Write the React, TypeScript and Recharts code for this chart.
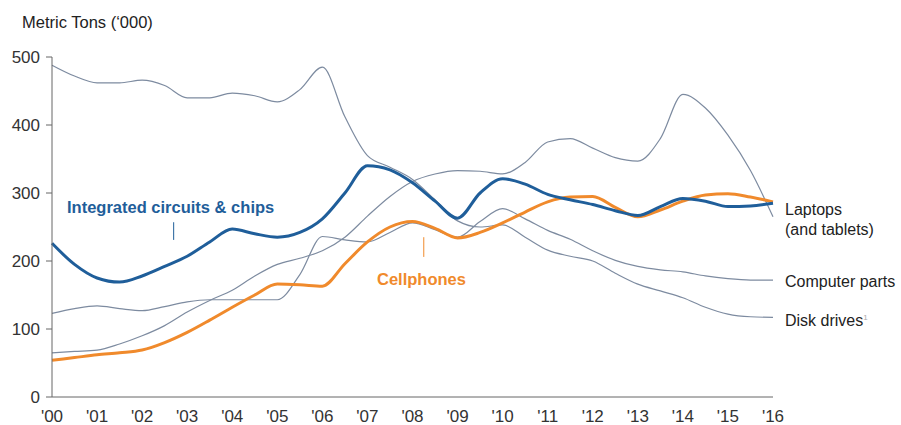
import React from 'react';
import { LineChart, Line, XAxis, YAxis, ReferenceLine } from 'recharts';

// half-year steps from 2000 to 2016
const years = [
  0, 0.5, 1, 1.5, 2, 2.5, 3, 3.5, 4, 4.5, 5, 5.5, 6, 6.5, 7, 7.5, 8, 8.5,
  9, 9.5, 10, 10.5, 11, 11.5, 12, 12.5, 13, 13.5, 14, 14.5, 15, 15.5, 16,
];

const yearLabels = ["'00", "'01", "'02", "'03", "'04", "'05", "'06", "'07", "'08", "'09", "'10", "'11", "'12", "'13", "'14", "'15", "'16"];
const yTicks = [0, 100, 200, 300, 400, 500];

const chips = [
  226, 195, 175, 169, 178, 192, 207, 228, 247, 240, 235, 242, 262, 300, 340, 334, 315, 288,
  263, 300, 321, 313, 298, 290, 283, 274, 267, 280, 292, 288, 280, 281, 285,
];
const cellphones = [
  54, 58, 62, 65, 69, 80, 95, 113, 132, 150, 166, 165, 163, 196, 228, 250, 258, 248,
  234, 242, 256, 272, 287, 294, 295, 279, 265, 275, 288, 297, 299, 294, 287,
];
const laptops = [
  65, 67, 69, 78, 90, 105, 125, 142, 157, 178, 195, 204, 215, 235, 266, 295, 317, 328,
  333, 332, 328, 345, 375, 380, 366, 352, 347, 380, 445, 425, 385, 333, 265,
];
const computerParts = [
  123, 130, 134, 130, 127, 133, 140, 143, 143, 143, 143, 180, 236, 231, 228, 242, 256, 246,
  235, 258, 277, 262, 245, 232, 215, 201, 192, 187, 184, 178, 174, 172, 172,
];
const diskDrives = [
  488, 472, 462, 462, 466, 458, 440, 440, 447, 443, 434, 452, 485, 412, 355, 338, 320, 290,
  259, 250, 253, 235, 216, 207, 200, 182, 166, 156, 146, 132, 122, 118, 117,
];

const data = years.map((x, i) => ({
  x,
  chips: chips[i],
  cellphones: cellphones[i],
  laptops: laptops[i],
  computerParts: computerParts[i],
  diskDrives: diskDrives[i],
}));

const BLUE = '#1f5e9a';
const ORANGE = '#f08a2c';
const THIN = '#7d8ba0';
const font = 'Arial, "Liberation Sans", sans-serif';

const label = (left: number, top: number, extra: React.CSSProperties = {}) => ({
  position: 'absolute' as const,
  left,
  top,
  fontFamily: font,
  fontSize: 16,
  color: '#222',
  whiteSpace: 'nowrap' as const,
  lineHeight: '20px',
  ...extra,
});

export default function App() {
  return (
    <div style={{ position: 'absolute', left: 0, top: 0, width: 901, height: 425, background: '#fff' }}>
      <LineChart
        width={901}
        height={425}
        data={data}
        margin={{ top: 57, right: 128, bottom: 0, left: 0 }}
      >
        <XAxis
          dataKey="x"
          type="number"
          domain={[0, 16]}
          ticks={yearLabels.map((_, i) => i)}
          tickFormatter={(v: number) => yearLabels[v]}
          height={28}
          tickLine={false}
          tickMargin={7}
          stroke="#666"
          tick={{ fill: '#333', fontSize: 17, fontFamily: font }}
        />
        <YAxis
          domain={[0, 500]}
          ticks={yTicks}
          width={52}
          tickSize={6}
          tickMargin={6}
          stroke="#666"
          tick={{ fill: '#333', fontSize: 17, fontFamily: font }}
        />
        <Line type="monotone" dataKey="laptops" stroke={THIN} strokeWidth={1.2} dot={false} isAnimationActive={false} />
        <Line type="monotone" dataKey="computerParts" stroke={THIN} strokeWidth={1.2} dot={false} isAnimationActive={false} />
        <Line type="monotone" dataKey="diskDrives" stroke={THIN} strokeWidth={1.2} dot={false} isAnimationActive={false} />
        <Line type="monotone" dataKey="cellphones" stroke={ORANGE} strokeWidth={3} dot={false} isAnimationActive={false} />
        <Line type="monotone" dataKey="chips" stroke={BLUE} strokeWidth={3} dot={false} isAnimationActive={false} />
        <ReferenceLine segment={[{ x: 2.7, y: 257 }, { x: 2.7, y: 231 }]} stroke={BLUE} strokeWidth={1} />
        <ReferenceLine segment={[{ x: 8.25, y: 235 }, { x: 8.25, y: 206 }]} stroke={ORANGE} strokeWidth={1} />
      </LineChart>

      <div style={label(22, 12, { fontSize: 16.5 })}>Metric Tons (‘000)</div>
      <div style={label(67, 197, { color: BLUE, fontWeight: 'bold', fontSize: 16.5 })}>Integrated circuits &amp; chips</div>
      <div style={label(377, 269, { color: ORANGE, fontWeight: 'bold', fontSize: 16.5 })}>Cellphones</div>
      <div style={label(785, 200)}>
        Laptops
        <br />
        (and tablets)
      </div>
      <div style={label(785, 272)}>Computer parts</div>
      <div style={label(785, 308)}>
        Disk drives<sup style={{ fontSize: 8, color: '#aaa' }}>1</sup>
      </div>
    </div>
  );
}
